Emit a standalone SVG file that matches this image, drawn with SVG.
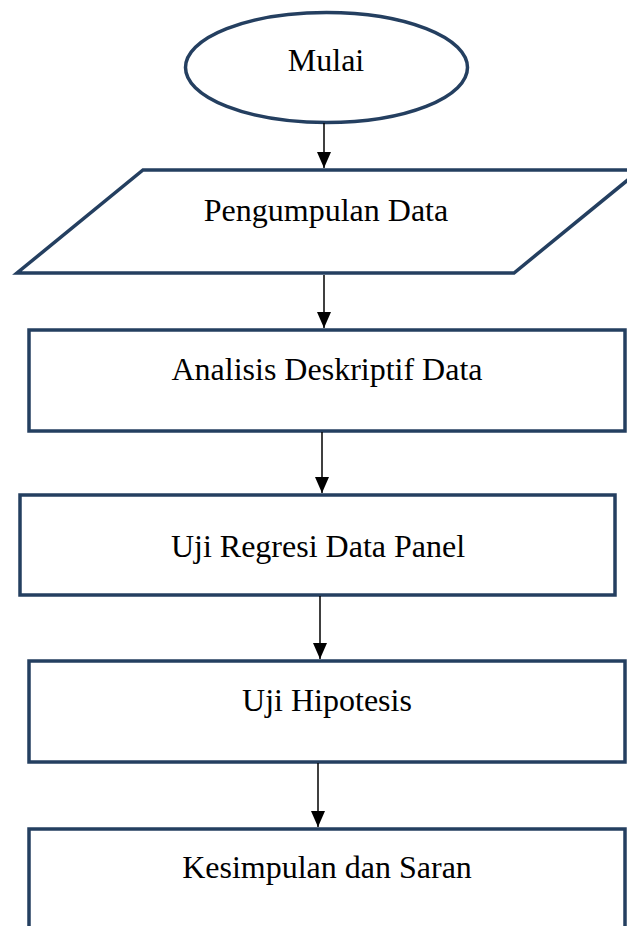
<svg xmlns="http://www.w3.org/2000/svg" width="627" height="926" viewBox="0 0 627 926">
<defs>
<marker id="arr" markerUnits="userSpaceOnUse" markerWidth="17" markerHeight="14" refX="16" refY="7" orient="auto" viewBox="0 0 17 14">
<path d="M0,0 L16,7 L0,14 Z" fill="#000"/>
</marker>
</defs>
<style>
.shape{fill:#fff;stroke:#243F60;stroke-width:3.5}
.lbl{font-family:"Liberation Serif","Times New Roman",serif;font-size:32px;fill:#000;text-anchor:middle}
.conn{stroke:#000;stroke-width:1.5;fill:none}
</style>
<rect width="627" height="926" fill="#fff"/>
<g id="mulai">
<ellipse class="shape" cx="326.5" cy="67.5" rx="141" ry="55"/>
<text class="lbl" x="326" y="71">Mulai</text>
</g>
<g id="pengumpulan">
<polygon class="shape" points="143,170 640,170 514,273 17,273"/>
<text class="lbl" x="326" y="221">Pengumpulan Data</text>
</g>
<g id="analisis">
<rect class="shape" x="29" y="330" width="596" height="101"/>
<text class="lbl" x="327" y="380">Analisis Deskriptif Data</text>
</g>
<g id="regresi">
<rect class="shape" x="20" y="495" width="595" height="100"/>
<text class="lbl" x="318" y="557">Uji Regresi Data Panel</text>
</g>
<g id="hipotesis">
<rect class="shape" x="29" y="661" width="596" height="101"/>
<text class="lbl" x="327" y="711">Uji Hipotesis</text>
</g>
<g id="kesimpulan">
<rect class="shape" x="29" y="829" width="596" height="120"/>
<text class="lbl" x="327" y="878">Kesimpulan dan Saran</text>
</g>
<g id="connectors">
<line class="conn" x1="324" y1="123" x2="324" y2="168" marker-end="url(#arr)"/>
<line class="conn" x1="324" y1="275" x2="324" y2="328" marker-end="url(#arr)"/>
<line class="conn" x1="322" y1="432" x2="322" y2="493" marker-end="url(#arr)"/>
<line class="conn" x1="320" y1="596" x2="320" y2="659" marker-end="url(#arr)"/>
<line class="conn" x1="318" y1="763" x2="318" y2="827" marker-end="url(#arr)"/>
</g>
</svg>
